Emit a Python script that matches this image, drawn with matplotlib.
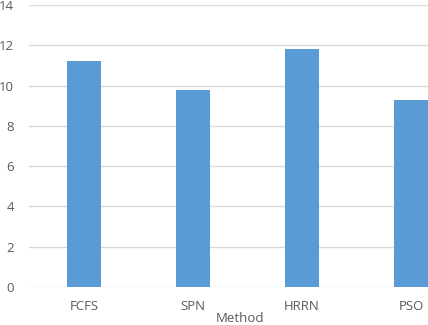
import matplotlib
matplotlib.use("Agg")
import matplotlib.pyplot as plt

categories = ["FCFS", "SPN", "HRRN", "PSO"]
values = [11.2, 9.8, 11.8, 9.3]
yticks = [0, 2, 4, 6, 8, 10, 12, 14]

plt.rcParams['font.family'] = ['Open Sans', 'DejaVu Sans']
W, H = 428, 325
fig = plt.figure(figsize=(W/100, H/100), dpi=100)
ax = fig.add_axes([29.5/W, (H-287)/H, 436/W, 282/H])
x = range(len(categories))
ax.bar(x, values, width=0.31, color='#5B9BD5', zorder=3)
ax.set_xlim(-0.5, 3.5)
ax.set_ylim(0, 14)
ax.set_yticks(yticks)
ax.set_xticks(list(x))
ax.set_xticklabels(categories)
ax.grid(axis='y', color='#D9D9D9', linewidth=1, zorder=0)
for s in ax.spines.values():
    s.set_visible(False)
ax.tick_params(axis='both', length=0, colors='#595959', labelsize=9.5)
ax.tick_params(axis='y', pad=11)
ax.tick_params(axis='x', pad=9)
fig.text(240/W, 1-318/H, "Method", ha='center', va='center', fontsize=9.5, color='#595959')
fig.savefig("out.png", dpi=100)
